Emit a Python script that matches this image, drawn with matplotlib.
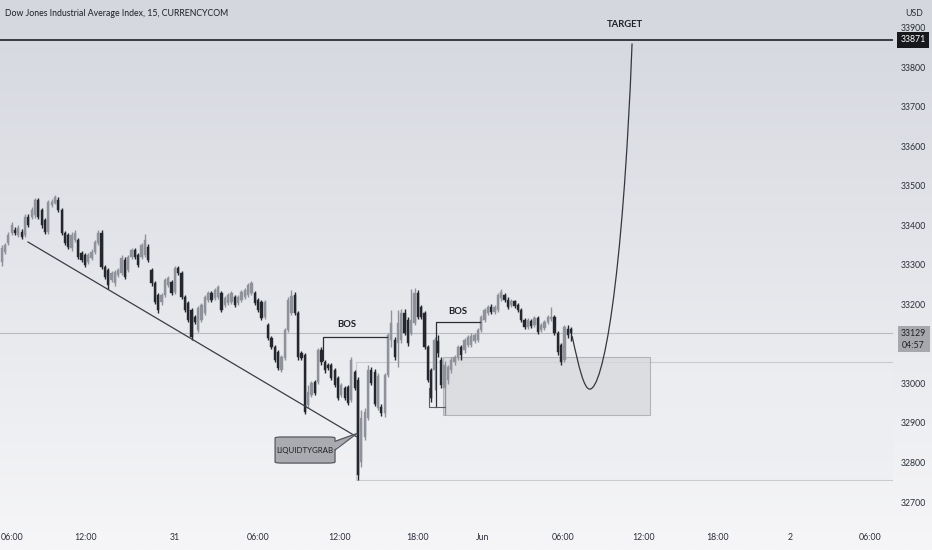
import matplotlib
matplotlib.use('Agg')
import matplotlib.pyplot as plt
import matplotlib.transforms as mtransforms
from matplotlib import font_manager
import numpy as np
from matplotlib.patches import Rectangle, FancyBboxPatch, Polygon, PathPatch
from matplotlib.path import Path

# OHLC, 15 min candles
opens = [
    33309, 33335, 33357, 33383, 33390, 33378, 33385, 33378, 33423, 33423,
    33428, 33466, 33441, 33416, 33385, 33454, 33459, 33466, 33441, 33383,
    33378, 33345, 33365, 33365, 33332, 33327, 33309, 33320, 33335, 33357,
    33383, 33297, 33289, 33264, 33256, 33277, 33282, 33315, 33289, 33322,
    33340, 33327, 33322, 33327, 33347, 33290, 33256, 33226, 33208, 33226,
    33251, 33259, 33234, 33294, 33282, 33221, 33206, 33188, 33170, 33138,
    33163, 33181, 33214, 33231, 33218, 33221, 33231, 33201, 33206, 33208,
    33221, 33206, 33214, 33221, 33226, 33231, 33231, 33214, 33208, 33170,
    33150, 33117, 33094, 33082, 33037, 33066, 33138, 33180, 33226, 33180,
    33079, 33074, 32948, 32973, 33006, 33006, 33087, 33056, 33049, 33049,
    33037, 33016, 32973, 32990, 32993, 32961, 33031, 33011, 32804, 32866,
    32915, 33037, 33031, 32940, 32943, 32928, 33024, 33112, 33112, 33105,
    33112, 33181, 33163, 33130, 33155, 33231, 33196, 33181, 33095, 33037,
    33037, 33110, 33062, 32990, 33011, 33037, 33056, 33069, 33094, 33087,
    33100, 33100, 33110, 33112, 33138, 33163, 33180, 33196, 33183, 33188,
    33218, 33226, 33214, 33201, 33210, 33201, 33188, 33163, 33145, 33160,
    33150, 33168, 33138, 33143, 33158, 33165, 33170, 33130, 33100, 33062,
    33140, 33140]

highs = [
    33352, 33358, 33385, 33410, 33398, 33402, 33392, 33430, 33430, 33448,
    33472, 33472, 33446, 33420, 33466, 33468, 33480, 33474, 33446, 33388,
    33383, 33385, 33390, 33370, 33338, 33332, 33332, 33342, 33366, 33390,
    33390, 33302, 33294, 33287, 33290, 33294, 33327, 33322, 33327, 33345,
    33346, 33333, 33358, 33380, 33355, 33295, 33262, 33230, 33232, 33270,
    33274, 33264, 33300, 33300, 33287, 33226, 33212, 33193, 33176, 33198,
    33206, 33226, 33236, 33236, 33244, 33252, 33236, 33224, 33231, 33236,
    33226, 33226, 33239, 33244, 33256, 33262, 33236, 33218, 33213, 33213,
    33155, 33122, 33099, 33087, 33074, 33143, 33220, 33239, 33234, 33186,
    33084, 33079, 32999, 33008, 33011, 33092, 33095, 33062, 33054, 33054,
    33042, 33020, 33003, 32995, 32998, 33068, 33037, 33019, 32935, 32940,
    33050, 33045, 33040, 33030, 32950, 33030, 33130, 33188, 33120, 33188,
    33190, 33190, 33170, 33240, 33244, 33239, 33200, 33186, 33100, 33042,
    33120, 33125, 33070, 33060, 33050, 33068, 33075, 33100, 33100, 33118,
    33125, 33130, 33130, 33143, 33176, 33194, 33201, 33203, 33201, 33232,
    33242, 33232, 33220, 33216, 33214, 33206, 33193, 33168, 33168, 33165,
    33173, 33173, 33155, 33163, 33176, 33196, 33176, 33135, 33105, 33150,
    33150, 33145]

lows = [
    33300, 33330, 33352, 33378, 33378, 33372, 33368, 33372, 33398, 33418,
    33422, 33418, 33396, 33380, 33380, 33448, 33455, 33436, 33378, 33352,
    33342, 33338, 33360, 33316, 33310, 33296, 33304, 33315, 33330, 33352,
    33292, 33266, 33240, 33259, 33250, 33272, 33277, 33267, 33284, 33316,
    33317, 33297, 33317, 33322, 33310, 33250, 33203, 33180, 33202, 33220,
    33246, 33226, 33228, 33276, 33216, 33183, 33158, 33112, 33152, 33132,
    33158, 33176, 33208, 33208, 33213, 33216, 33182, 33196, 33201, 33203,
    33196, 33201, 33208, 33216, 33220, 33226, 33200, 33183, 33162, 33165,
    33112, 33089, 33056, 33036, 33032, 33061, 33132, 33175, 33175, 33062,
    33061, 32925, 32940, 32968, 32973, 33001, 33050, 33030, 33036, 33011,
    32993, 32960, 32968, 32960, 32948, 32956, 32985, 32759, 32790, 32860,
    32910, 32998, 32945, 32935, 32920, 32918, 33018, 33095, 33062, 33044,
    33105, 33125, 33098, 33125, 33150, 33165, 33165, 33090, 33005, 32955,
    32985, 33070, 32990, 32923, 33000, 33030, 33050, 33062, 33062, 33080,
    33094, 33095, 33105, 33107, 33132, 33158, 33175, 33178, 33178, 33183,
    33212, 33208, 33190, 33196, 33193, 33183, 33158, 33140, 33140, 33142,
    33145, 33127, 33132, 33138, 33153, 33160, 33125, 33075, 33050, 33056,
    33118, 33110]

closes = [
    33345, 33352, 33378, 33403, 33383, 33396, 33373, 33423, 33403, 33441,
    33466, 33423, 33403, 33385, 33461, 33461, 33474, 33441, 33383, 33357,
    33348, 33378, 33383, 33322, 33315, 33302, 33327, 33335, 33360, 33383,
    33297, 33272, 33251, 33282, 33284, 33289, 33320, 33272, 33322, 33340,
    33322, 33302, 33352, 33365, 33315, 33256, 33208, 33188, 33226, 33264,
    33269, 33231, 33294, 33282, 33221, 33188, 33163, 33120, 33158, 33193,
    33201, 33221, 33231, 33214, 33239, 33246, 33188, 33218, 33226, 33231,
    33201, 33221, 33234, 33239, 33251, 33256, 33206, 33188, 33168, 33208,
    33117, 33094, 33062, 33041, 33069, 33138, 33214, 33223, 33180, 33069,
    33066, 32930, 32981, 33003, 32978, 33087, 33056, 33037, 33041, 33016,
    32998, 32966, 32998, 32966, 32953, 33062, 32990, 32770, 32915, 32930,
    33037, 33004, 32950, 33020, 32928, 33024, 33125, 33155, 33069, 33155,
    33181, 33130, 33105, 33163, 33231, 33170, 33170, 33095, 33011, 32966,
    33112, 33079, 32998, 33050, 33044, 33062, 33069, 33094, 33075, 33112,
    33120, 33122, 33125, 33138, 33170, 33188, 33196, 33183, 33196, 33226,
    33234, 33214, 33196, 33210, 33198, 33188, 33163, 33145, 33163, 33148,
    33168, 33132, 33150, 33158, 33170, 33170, 33130, 33082, 33056, 33145,
    33125, 33129]

price_ticks = [32700, 32800, 32900, 33000, 33200, 33300, 33400, 33500, 33600, 33700, 33800, 33900]
time_labels = ['06:00', '12:00', '31', '06:00', '12:00', '18:00', 'Jun', '06:00', '12:00', '18:00', '2', '06:00']
time_pos = [0.4, 25.3, 52, 77, 101.6, 125, 144.5, 168.6, 192.6, 215, 236.7, 260.7]

target = 33871
last_price = 33129
zone_top, zone_bot = 33069, 32923
grab_top, grab_low = 33056, 32759
bos1_level, bos1_from = 33119, 33062
bos2_level, bos2_from = 33158, 32943


def pick_font(names):
    for n in names:
        try:
            font_manager.findfont(n, fallback_to_default=False)
            return [n, 'DejaVu Sans']
        except ValueError:
            pass
    return ['DejaVu Sans']


narrow = pick_font(['Liberation Sans Narrow', 'Lato', 'Liberation Sans'])
FS = 6.3
UP = '#8f929a'
DOWN = '#24272d'
TXT = '#2a2e39'

fig = plt.figure(figsize=(9.32, 5.5), dpi=100)

# background gradient
bg = fig.add_axes([0, 0, 1, 1], zorder=0)
t = np.linspace(0, 1, 256)[:, None, None]
top_c = np.array([212, 215, 222]) / 255
bot_c = np.array([246, 246, 248]) / 255
bg.imshow(top_c + (bot_c - top_c) * t, aspect='auto', extent=[0, 1, 0, 1])
bg.set_axis_off()

ax = fig.add_axes([0, 28 / 550, 893 / 932, 522 / 550], zorder=1)
ax.patch.set_alpha(0)
ax.set_axis_off()
ax.set_xlim(-0.51, 267.66)
ax.set_ylim(32652, 33972)

o = np.array(opens)
h = np.array(highs)
l = np.array(lows)
c = np.array(closes)
idx = np.arange(len(c))
is_up = c >= o
cols = np.where(is_up, UP, DOWN)

# zones
ax.add_patch(Rectangle((106.3, grab_low), 300, grab_top - grab_low,
                       fc='#eceef1', ec='#b3b5ba', lw=0.8, alpha=0.6, zorder=1))
ax.add_patch(Rectangle((132.5, zone_bot), 62.2, zone_top - zone_bot,
                       fc='#d6d8dc', ec='#a3a5aa', lw=0.8, alpha=0.75, zorder=1))

ax.axhline(last_price, color='#b9bbc1', lw=0.8, zorder=1)
ax.axhline(target, color='#1f2126', lw=1.2, zorder=3)

# candles
ax.vlines(idx, np.minimum(l, np.minimum(o, c)), np.maximum(h, np.maximum(o, c)),
          colors=cols, lw=1.0, zorder=2)
ax.bar(idx, c - o, bottom=o, width=0.68, color=cols, edgecolor=cols, lw=0.3, zorder=2)

# trend line
ax.plot([7.9, 106.5], [33360, 32868], color='#3a3d44', lw=0.9, zorder=3)

# BOS markings
ax.plot([96.5, 96.5, 115.7], [bos1_from, bos1_level, bos1_level], color='#2b2e34', lw=0.9, zorder=3)
ax.text(103.7, bos1_level + 22, 'BOS', fontsize=FS + 0.5, fontweight='bold', family=narrow,
        color='#1e2026', ha='center', va='bottom', zorder=4)
ax.plot([130.4, 130.4, 143.6], [bos2_from, bos2_level, bos2_level], color='#2b2e34', lw=0.9, zorder=3)
ax.plot([128.4, 128.4, 133], [32990, bos2_from, bos2_from], color='#5a5d64', lw=0.8, zorder=3)
ax.text(137, bos2_level + 14, 'BOS', fontsize=FS + 0.5, fontweight='bold', family=narrow,
        color='#1e2026', ha='center', va='bottom', zorder=4)

# liquidity grab callout
asp = 2.528 / 3.33
ax.add_patch(FancyBboxPatch((82.1, 32801), 18.0, 66,
                            boxstyle='round,pad=0,rounding_size=2.2', mutation_aspect=1 / asp,
                            fc='#a9abb0', ec='#55585e', lw=0.9, zorder=4))
ax.add_patch(Polygon([[99.6, 32856], [106.7, 32876], [99.6, 32834]], closed=True,
                     fc='#a9abb0', ec='none', zorder=5))
ax.plot([100.1, 106.7, 100.1], [32856, 32876, 32834], color='#55585e', lw=0.9, zorder=5)
ax.text(91.1, 32834, 'LIQUIDTYGRAB', fontsize=FS - 0.6, family=narrow, color='#1e2026',
        ha='center', va='center', zorder=6)

# projected path
verts = [(171.3, 33122), (173.4, 33040), (174.9, 32988), (176.6, 32988),
         (180.5, 32988), (186.5, 33250), (189.3, 33862)]
codes = [Path.MOVETO, Path.CURVE4, Path.CURVE4, Path.CURVE4,
         Path.CURVE4, Path.CURVE4, Path.CURVE4]
ax.add_patch(PathPatch(Path(verts, codes), fc='none', ec='#34373d', lw=0.9, zorder=3))
ax.text(187.2, 33909, 'TARGET', fontsize=FS + 0.5, fontweight='bold', family=narrow,
        color='#1e2026', ha='center', va='center', zorder=4)

# price scale
ytr = mtransforms.blended_transform_factory(ax.transAxes, ax.transData)
xlab = 913 / 893
for p in price_ticks:
    ax.text(xlab, p, str(p), transform=ytr, fontsize=FS, family=narrow, color=TXT,
            ha='center', va='center', clip_on=False)
ax.text(xlab, target, str(target), transform=ytr, fontsize=FS, family=narrow, color='white',
        ha='center', va='center', clip_on=False, zorder=6,
        bbox=dict(boxstyle='square,pad=0.35', fc='#17181c', ec='none'))
fig.add_artist(Rectangle((898 / 932, 1 - 352 / 550), 32 / 932, 26 / 550,
                         transform=fig.transFigure, fc='#a6a8ae', ec='none', zorder=5))
fig.text(913 / 932, 1 - 333 / 550, str(last_price), fontsize=FS, family=narrow, color='#1e2026',
         ha='center', va='center', zorder=6)
fig.text(913 / 932, 1 - 346 / 550, '04:57', fontsize=FS, family=narrow, color='#1e2026',
         ha='center', va='center', zorder=6)
fig.text(905 / 932, 1 - 13 / 550, 'USD', fontsize=FS, family=narrow, color=TXT,
         ha='left', va='center', zorder=6)

# time scale
xtr = mtransforms.blended_transform_factory(ax.transData, ax.transAxes)
for k, (pos, lab) in enumerate(zip(time_pos, time_labels)):
    if k == 0:
        # first label sits on the left edge
        ax.text(0.001, -15 / 522, lab, transform=ax.transAxes, fontsize=FS, family=narrow, color=TXT,
                ha='left', va='center', clip_on=False)
    else:
        ax.text(pos, -15 / 522, lab, transform=xtr, fontsize=FS, family=narrow, color=TXT,
                ha='center', va='center', clip_on=False)

fig.text(5 / 932, 1 - 14 / 550, 'Dow Jones Industrial Average Index, 15, CURRENCYCOM',
         fontsize=FS, family=narrow, color='#1e2026', ha='left', va='center', zorder=6)

fig.savefig('out.png', dpi=100)
